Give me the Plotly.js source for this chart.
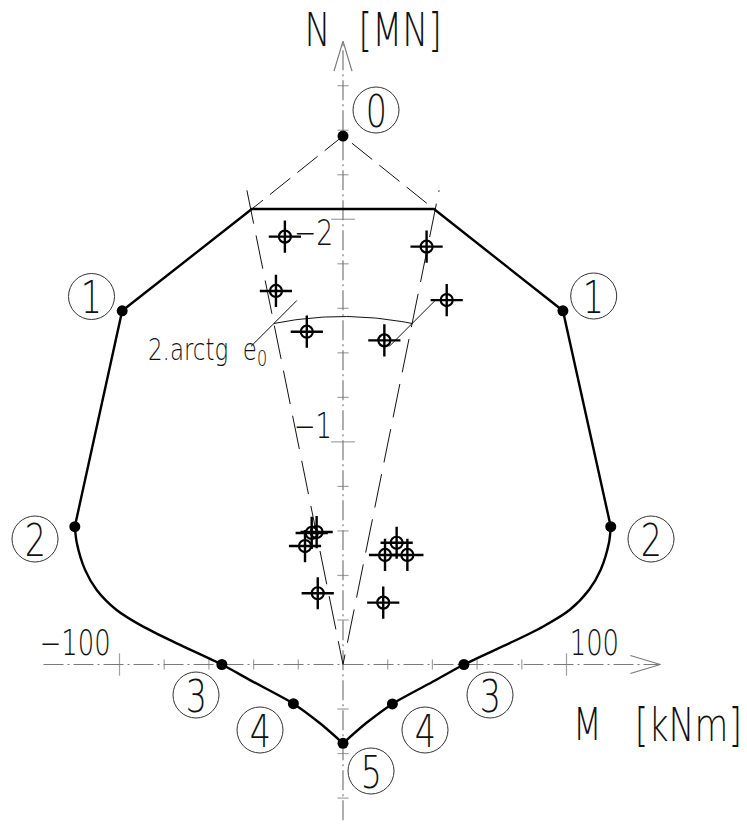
<!DOCTYPE html>
<html>
<head>
<meta charset="utf-8">
<script src="https://cdn.plot.ly/plotly-3.0.1.min.js"></script>
<style>html,body{margin:0;padding:0;background:#fff}</style>
</head>
<body>
<div id="chart" style="width:747px;height:824px"></div>
<script>
// M–N interaction diagram of a column section (compression negative, drawn upward)

// Key points of the envelope, M [kNm], N [MN]
const pointLabels = ['0', '1', '1', '2', '2', '3', '3', '4', '4', '5'];
const pointM = [0, -98.8, 98.4, -120.0, 119.8, -54.2, 54.1, -22.2, 22.1, 0];
const pointN = [-2.374, -1.589, -1.589, -0.619, -0.619, 0, 0, 0.176, 0.177, 0.354];

// Straight upper part: right 2 -> right 1 -> flat top -> left 1 -> left 2
const topM = [119.8, 98.4, 40.7, -40.8, -98.8, -120.0];
const topN = [-0.619, -1.589, -2.046, -2.046, -1.589, -0.619];

// Curved lower part, left branch 2 -> 3 -> 4 -> 5
const lowLeftM = [-120.0, -119.1, -115.4, -110.2, -101.3, -89.4, -74.4, -54.2, -41.6, -22.2, -10.3, 0];
const lowLeftN = [-0.619, -0.546, -0.425, -0.335, -0.245, -0.170, -0.095, 0, 0.070, 0.176, 0.264, 0.354];
// right branch 5 -> 4 -> 3 -> 2
const lowRightM = [0, 10.4, 22.1, 41.4, 54.1, 74.6, 89.6, 101.5, 110.1, 115.3, 119.0, 119.8];
const lowRightN = [0.354, 0.263, 0.177, 0.071, 0, -0.096, -0.171, -0.246, -0.336, -0.426, -0.547, -0.619];

// Measured load combinations
const testM = [-26.0, 37.4, -30.0, 46.4, -16.2, 18.5, -14.0, -11.8, -17.0, 18.8, 24.0, 28.8, -11.3, 18.0];
const testN = [-1.922, -1.877, -1.678, -1.637, -1.495, -1.456, -0.591, -0.595, -0.532, -0.492, -0.547, -0.492, -0.320, -0.278];

// Minimum eccentricity cone through the flat-top corners
const coneM = [-43.0, 0, 43.0];
const coneN = [-2.13, 0, -2.13];
const arcN = -1.563;          // radius of the 2·arctg e0 dimension arc

// Axes and tick marks
const mAxis = [-134, 142];
const nAxis = [0.70, -2.80];
const mTicks = [-100, -80, -60, -40, -20, 20, 40, 60, 80, 100];
const mTickLabels = ['−100', '100'];
const nTicks = [-2.6, -2.4, -2.2, -2.0, -1.8, -1.6, -1.4, -1.2, -1.0, -0.8, -0.6, -0.4, -0.2, 0.2, 0.4, 0.6];
const nTickLabels = ['−2', '−1'];

const W = 747, H = 824;
const xr = [-153.47, 180.76];
const yr = [0.7165, -2.985];
const kx = W / (xr[1] - xr[0]);    // px per kNm
const ky = H / (yr[0] - yr[1]);    // px per MN (downward)

const FONT = '"DejaVu Sans", "Liberation Sans", sans-serif';
const INK = '#111';
const AXC = '#7a7a7a';
const SQUEEZE = 0.74;              // narrow drafting lettering

function px(x) { return x / W; }
function py(y) { return 1 - y / H; }

const traces = [];

// dash-dot axes
traces.push({x: mAxis, y: [0, 0], mode: 'lines', line: {color: AXC, width: 1.2, dash: '20px,4px,2px,4px'}});
traces.push({x: [0, 0], y: nAxis, mode: 'lines', line: {color: AXC, width: 1.2, dash: '20px,4px,2px,4px'}});
// open arrowheads
const ah = 30, aw = 9;
traces.push({x: [mAxis[1] - ah / kx, mAxis[1], mAxis[1] - ah / kx], y: [-aw / ky, 0, aw / ky],
  mode: 'lines', line: {color: AXC, width: 1.2}});
traces.push({x: [-aw / kx, 0, aw / kx], y: [nAxis[1] + ah / ky, nAxis[1], nAxis[1] + ah / ky],
  mode: 'lines', line: {color: AXC, width: 1.2}});
// ticks
traces.push({x: mTicks, y: mTicks.map(() => 0), mode: 'markers',
  marker: {symbol: 'line-ns', size: mTicks.map(v => Math.abs(v) === 100 ? 16 : 7), line: {color: AXC, width: 1.2}}});
traces.push({x: nTicks.map(() => 0), y: nTicks, mode: 'markers',
  marker: {symbol: 'line-ew', size: nTicks.map(v => (Math.abs(v) === 1 || Math.abs(v) === 2) ? 17 : 8), line: {color: AXC, width: 1.2}}});

// eccentricity cone (through origin)
traces.push({x: coneM, y: coneN, mode: 'lines', line: {color: INK, width: 1, dash: '34px,12px'}});
// lines from the pure-compression point 0 to the corners of the flat top
const cL = [topM[3], topN[3]], cR = [topM[2], topN[2]];
const ext = 0.1;
traces.push({x: [cL[0] + (cL[0] - pointM[0]) * ext, pointM[0], cR[0] + (cR[0] - pointM[0]) * ext],
             y: [cL[1] + (cL[1] - pointN[0]) * ext, pointN[0], cR[1] + (cR[1] - pointN[0]) * ext],
             mode: 'lines', line: {color: INK, width: 1, dash: '26px,9px'}});

// dimension arc 2·arctg e0, centred on the origin
const Rpx = -arcN * ky;
const th = Math.atan((coneM[2] * kx) / (-coneN[2] * ky));
const arcX = [], arcY = [];
for (let i = 0; i <= 40; i++) {
  const a = -th + 2 * th * i / 40;
  arcX.push(Rpx * Math.sin(a) / kx);
  arcY.push(-Rpx * Math.cos(a) / ky);
}
traces.push({x: arcX, y: arcY, mode: 'lines', line: {color: INK, width: 1}});
// oblique end ticks of the arc
[0, 40].forEach(i => {
  const s = 23;
  traces.push({x: [arcX[i] - s / kx, arcX[i] + s / kx], y: [arcY[i] + s / ky, arcY[i] - s / ky],
    mode: 'lines', line: {color: INK, width: 1}});
});

// envelope
traces.push({x: topM, y: topN, mode: 'lines', line: {color: '#000', width: 2.4}});
traces.push({x: lowLeftM, y: lowLeftN, mode: 'lines', line: {color: '#000', width: 2.4, shape: 'spline', smoothing: 0.8}});
traces.push({x: lowRightM, y: lowRightN, mode: 'lines', line: {color: '#000', width: 2.4, shape: 'spline', smoothing: 0.8}});
traces.push({x: pointM, y: pointN, mode: 'markers', marker: {color: '#000', size: 11, symbol: 'circle'}});

// load combinations: crosshair with circle
traces.push({x: testM, y: testN, mode: 'markers',
  marker: {symbol: 'cross-thin-open', size: 23, color: '#000', line: {color: '#000', width: 2.4}}});
traces.push({x: testM, y: testN, mode: 'markers',
  marker: {symbol: 'circle-open', size: 12, color: '#000', line: {color: '#000', width: 2.2}}});

// circled point numbers (pixel centres)
const circ = [[376, 110], [91.5, 296.5], [593.7, 296], [35, 539], [651, 539], [196, 695], [490, 695], [260, 730], [425, 730], [371, 771]];
const shapes = circ.map(c => ({type: 'circle', xref: 'paper', yref: 'paper',
  x0: px(c[0] - 23), x1: px(c[0] + 23), y0: py(c[1] + 23), y1: py(c[1] - 23),
  line: {color: '#333', width: 1}}));

const ann = [];
function txt(t, x, y, size, xa) {
  ann.push({text: t, x: px(x), y: py(y), xref: 'paper', yref: 'paper', showarrow: false,
    xanchor: xa || 'center', yanchor: 'middle',
    font: {family: FONT, size: size, color: INK, weight: 200}});
}
circ.forEach((c, i) => txt(pointLabels[i], c[0], c[1] + 1, 45));
// axis titles
txt('N', 317, 30, 47);
txt('[MN]', 400, 30, 47);
txt('M', 587.5, 724, 45);
txt('[kNm]', 688, 724, 47);
// tick labels
txt(mTickLabels[0], 75, 643, 35);
txt(mTickLabels[1], 594, 643, 35);
txt(nTickLabels[0], 313, 232, 36);
txt(nTickLabels[1], 313, 426, 35);
// arc label
txt('2.arctg  e<sub>0</sub>', 146, 351, 31, 'left');

const layout = {
  width: W, height: H, margin: {l: 0, r: 0, t: 0, b: 0},
  paper_bgcolor: '#fff', plot_bgcolor: '#fff', showlegend: false,
  xaxis: {range: xr, visible: false, fixedrange: true},
  yaxis: {range: yr, visible: false, fixedrange: true},
  shapes: shapes, annotations: ann
};
Plotly.newPlot('chart', traces, layout, {staticPlot: true}).then(gd => {
  // compress the lettering horizontally about its anchor
  gd.querySelectorAll('.annotation-text').forEach((t, i) => {
    const b = t.getBBox();
    const left = ann[i] && ann[i].xanchor === 'left';
    const cx = left ? b.x : b.x + b.width / 2;
    t.setAttribute('transform', `translate(${cx},0) scale(${SQUEEZE},1) translate(${-cx},0)`);
  });
});
</script>
</body>
</html>
